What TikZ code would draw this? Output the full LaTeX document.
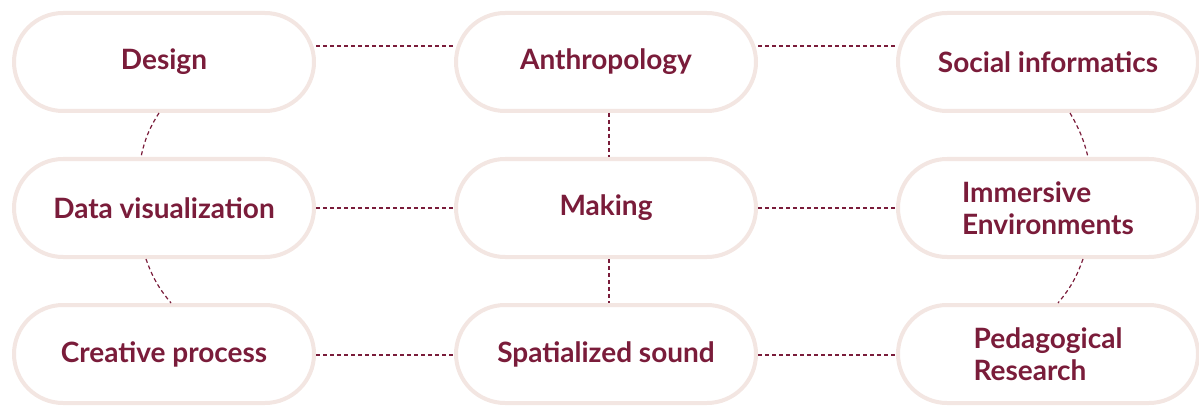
\documentclass[tikz,border=0pt]{standalone}
\usepackage{fontspec}
\setmainfont{Lato}
\usepackage{tikz}
\usetikzlibrary{positioning,calc}
\definecolor{wine}{RGB}{122,28,58}
\definecolor{blush}{RGB}{243,230,226}
\tikzstyle{pill}=[rectangle, rounded corners=49pt, draw=blush, line width=4pt, fill=white,
  minimum width=300pt, minimum height=98pt, inner sep=0pt, align=left,
  text=wine, font=\fontsize{28}{32}\selectfont\bfseries]
\tikzstyle{link}=[draw=wine, line width=1.2pt, dash pattern=on 4pt off 3pt]

\begin{document}
\begin{tikzpicture}[x=1pt, y=1pt, node distance=44pt and 138pt]
\useasboundingbox (0,0) rectangle (1199,405);
\node (design) [pill] at (164,343) {Design};
\node (anthro) [pill, right=of design] {Anthropology};
\node (social) [pill, right=of anthro] {Social informatics};
\node (datavis) [pill, below=of design] {Data visualization};
\node (making) [pill, below=of anthro] {Making};
\node (immersive) [pill, below=of social] {Immersive\\Environments};
\node (creative) [pill, below=of datavis] {Creative process};
\node (spatial) [pill, below=of making] {Spatialized sound};
\node (pedagog) [pill, below=of immersive] {Pedagogical\\Research};
% rows
\draw[link] ([yshift=16pt]design.east) -- ([yshift=16pt]anthro.west);
\draw[link] ([yshift=16pt]anthro.east) -- ([yshift=16pt]social.west);
\draw[link] (datavis) -- (making);
\draw[link] (making) -- (immersive);
\draw[link] ([yshift=-1pt]creative.east) -- ([yshift=-1pt]spatial.west);
\draw[link] ([yshift=-1pt]spatial.east) -- ([yshift=-1pt]pedagog.west);
% middle column
\draw[link] ([xshift=3pt]anthro.south) -- ([xshift=3pt]making.north);
\draw[link] ([xshift=3pt]making.south) -- ([xshift=3pt]spatial.north);
% outer arcs
\draw[link] ([xshift=-5pt]design.south) to[bend right=10] ([xshift=-23pt]datavis.north);
\draw[link] ([xshift=-18pt]datavis.south) to[bend right=10] ([xshift=7pt]creative.north);
\draw[link] ([xshift=22pt]social.south) to[bend left=8] ([xshift=40pt]immersive.north);
\draw[link] ([xshift=35pt]immersive.south) to[bend left=10] ([xshift=10pt]pedagog.north);
\end{tikzpicture}
\end{document}
